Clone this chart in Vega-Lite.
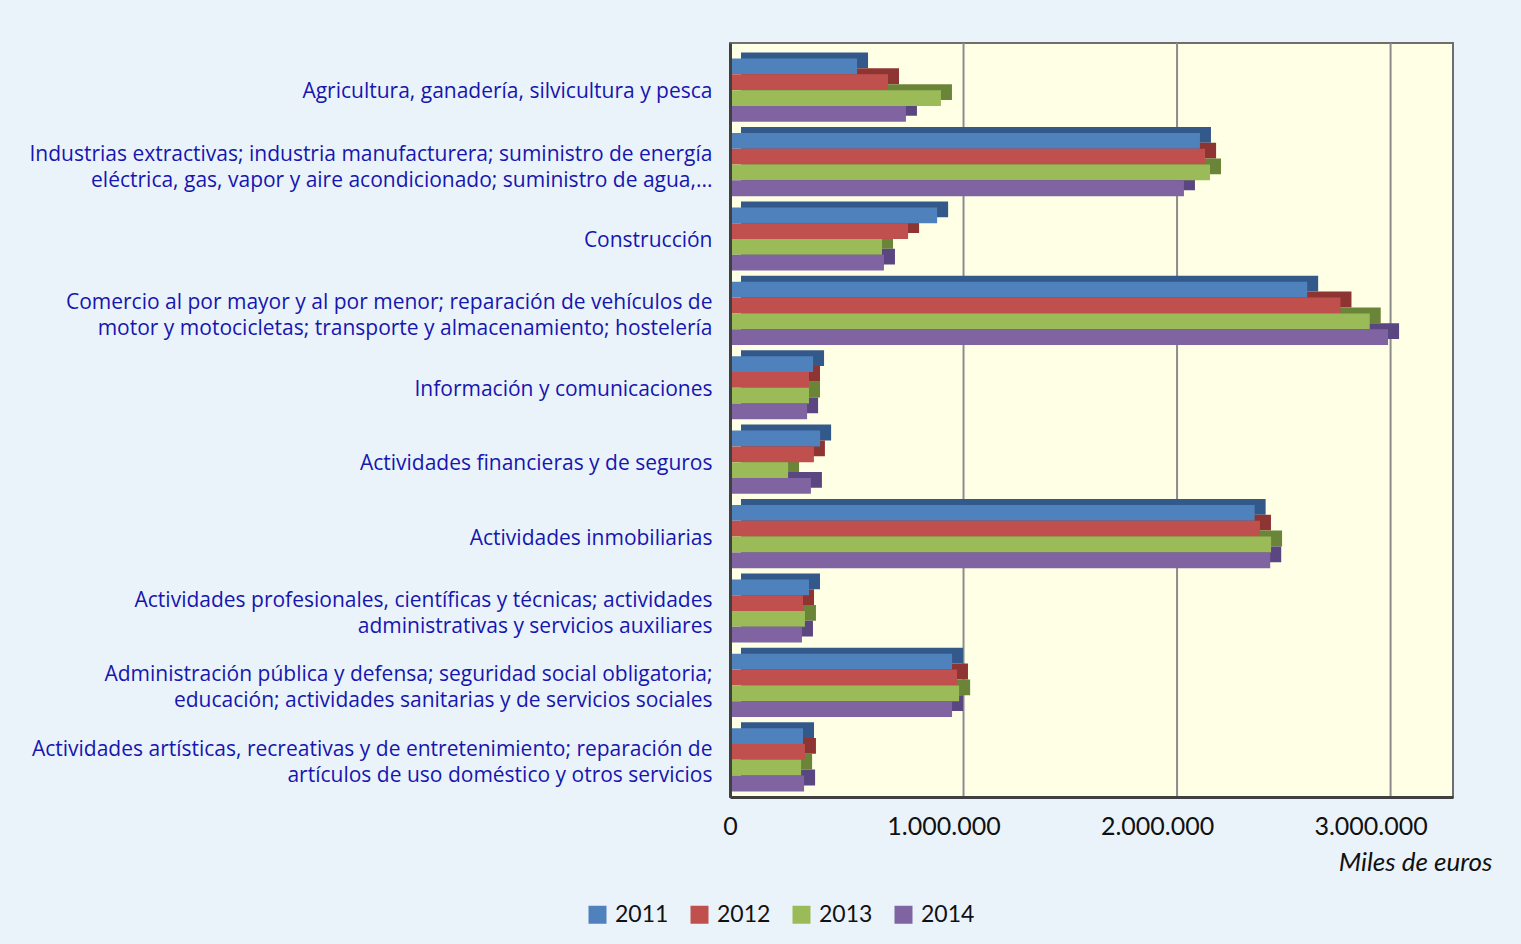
{
  "$schema": "https://vega.github.io/schema/vega-lite/v6.json",
  "width": 723,
  "height": 754,
  "autosize": {"type": "none"},
  "padding": {"left": 730, "top": 43, "right": 68, "bottom": 147},
  "background": "#EBF3FA",
  "config": {
    "view": {"fill": "#FFFFE6", "stroke": "#6E6E6E", "strokeWidth": 2},
    "font": "Liberation Sans",
    "locale": {"number": {"decimal": ",", "thousands": ".", "grouping": [3], "currency": ["", " €"]}}
  },
  "datasets": {
    "bars": [
      {"sector": "Agricultura, ganadería, silvicultura y pesca", "year": "2011", "value": 595000},
      {"sector": "Agricultura, ganadería, silvicultura y pesca", "year": "2012", "value": 740000},
      {"sector": "Agricultura, ganadería, silvicultura y pesca", "year": "2013", "value": 988000},
      {"sector": "Agricultura, ganadería, silvicultura y pesca", "year": "2014", "value": 824000},
      {"sector": "Industrias extractivas; industria manufacturera; suministro de energía\neléctrica, gas, vapor y aire acondicionado; suministro de agua,...", "year": "2011", "value": 2201000},
      {"sector": "Industrias extractivas; industria manufacturera; suministro de energía\neléctrica, gas, vapor y aire acondicionado; suministro de agua,...", "year": "2012", "value": 2225000},
      {"sector": "Industrias extractivas; industria manufacturera; suministro de energía\neléctrica, gas, vapor y aire acondicionado; suministro de agua,...", "year": "2013", "value": 2248000},
      {"sector": "Industrias extractivas; industria manufacturera; suministro de energía\neléctrica, gas, vapor y aire acondicionado; suministro de agua,...", "year": "2014", "value": 2126000},
      {"sector": "Construcción", "year": "2011", "value": 970000},
      {"sector": "Construcción", "year": "2012", "value": 834000},
      {"sector": "Construcción", "year": "2013", "value": 712000},
      {"sector": "Construcción", "year": "2014", "value": 721000},
      {"sector": "Comercio al por mayor y al por menor; reparación de vehículos de\nmotor y motocicletas; transporte y almacenamiento; hostelería", "year": "2011", "value": 2703000},
      {"sector": "Comercio al por mayor y al por menor; reparación de vehículos de\nmotor y motocicletas; transporte y almacenamiento; hostelería", "year": "2012", "value": 2859000},
      {"sector": "Comercio al por mayor y al por menor; reparación de vehículos de\nmotor y motocicletas; transporte y almacenamiento; hostelería", "year": "2013", "value": 2996000},
      {"sector": "Comercio al por mayor y al por menor; reparación de vehículos de\nmotor y motocicletas; transporte y almacenamiento; hostelería", "year": "2014", "value": 3082000},
      {"sector": "Información y comunicaciones", "year": "2011", "value": 389000},
      {"sector": "Información y comunicaciones", "year": "2012", "value": 370000},
      {"sector": "Información y comunicaciones", "year": "2013", "value": 370000},
      {"sector": "Información y comunicaciones", "year": "2014", "value": 361000},
      {"sector": "Actividades financieras y de seguros", "year": "2011", "value": 422000},
      {"sector": "Actividades financieras y de seguros", "year": "2012", "value": 393000},
      {"sector": "Actividades financieras y de seguros", "year": "2013", "value": 272000},
      {"sector": "Actividades financieras y de seguros", "year": "2014", "value": 379000},
      {"sector": "Actividades inmobiliarias", "year": "2011", "value": 2457000},
      {"sector": "Actividades inmobiliarias", "year": "2012", "value": 2482000},
      {"sector": "Actividades inmobiliarias", "year": "2013", "value": 2534000},
      {"sector": "Actividades inmobiliarias", "year": "2014", "value": 2530000},
      {"sector": "Actividades profesionales, científicas y técnicas; actividades\nadministrativas y servicios auxiliares", "year": "2011", "value": 370000},
      {"sector": "Actividades profesionales, científicas y técnicas; actividades\nadministrativas y servicios auxiliares", "year": "2012", "value": 342000},
      {"sector": "Actividades profesionales, científicas y técnicas; actividades\nadministrativas y servicios auxiliares", "year": "2013", "value": 351000},
      {"sector": "Actividades profesionales, científicas y técnicas; actividades\nadministrativas y servicios auxiliares", "year": "2014", "value": 337000},
      {"sector": "Administración pública y defensa; seguridad social obligatoria;\neducación; actividades sanitarias y de servicios sociales", "year": "2011", "value": 1040000},
      {"sector": "Administración pública y defensa; seguridad social obligatoria;\neducación; actividades sanitarias y de servicios sociales", "year": "2012", "value": 1063000},
      {"sector": "Administración pública y defensa; seguridad social obligatoria;\neducación; actividades sanitarias y de servicios sociales", "year": "2013", "value": 1073000},
      {"sector": "Administración pública y defensa; seguridad social obligatoria;\neducación; actividades sanitarias y de servicios sociales", "year": "2014", "value": 1040000},
      {"sector": "Actividades artísticas, recreativas y de entretenimiento; reparación de\nartículos de uso doméstico y otros servicios", "year": "2011", "value": 342000},
      {"sector": "Actividades artísticas, recreativas y de entretenimiento; reparación de\nartículos de uso doméstico y otros servicios", "year": "2012", "value": 351000},
      {"sector": "Actividades artísticas, recreativas y de entretenimiento; reparación de\nartículos de uso doméstico y otros servicios", "year": "2013", "value": 333000},
      {"sector": "Actividades artísticas, recreativas y de entretenimiento; reparación de\nartículos de uso doméstico y otros servicios", "year": "2014", "value": 347000}
    ],
    "grid": [
      {"value": 1000000},
      {"value": 2000000},
      {"value": 3000000}
    ]
  },
  "layer": [
    {
      "data": {"name": "grid"},
      "mark": {"type": "rule", "color": "#8C8C8C", "strokeWidth": 2, "xOffset": 20},
      "encoding": {
        "x": {"field": "value", "type": "quantitative", "scale": {"domain": [0, 3386000], "nice": false, "zero": true}}
      }
    },
    {
      "data": {"name": "bars"},
      "mark": {"type": "bar", "xOffset": 11},
      "encoding": {
        "y": {"field": "sector", "type": "nominal", "sort": null, "scale": {"paddingInner": 0, "paddingOuter": 0.067, "align": 1}},
        "yOffset": {"field": "year", "type": "nominal", "scale": {"paddingInner": 0, "paddingOuter": 0.355, "range": [-6, 68.4]}},
        "x": {"field": "value", "type": "quantitative", "scale": {"domain": [0, 3386000], "nice": false, "zero": true}},
        "color": {"field": "year", "type": "nominal", "scale": {"domain": ["2011", "2012", "2013", "2014"], "range": ["#33598A", "#8E3432", "#6B8538", "#5A4680"]}, "legend": null}
      }
    },
    {
      "data": {"name": "bars"},
      "mark": {"type": "bar"},
      "encoding": {
        "y": {
          "field": "sector", "type": "nominal", "sort": null,
          "scale": {"paddingInner": 0, "paddingOuter": 0.067, "align": 1},
          "axis": {
            "title": null, "ticks": false, "domain": true, "domainColor": "#404040", "domainWidth": 3,
            "labelFont": "Open Sans", "labelFontSize": 21, "labelColor": "#1616B0",
            "labelPadding": 18, "labelLimit": 800, "labelLineHeight": 26,
            "labelOffset": {"expr": "indexof(datum.label, '\\n') >= 0 ? -10 : 2"},
            "labelExpr": "split(datum.label, '\\n')", "zindex": 1
          }
        },
        "yOffset": {"field": "year", "type": "nominal", "scale": {"paddingInner": 0, "paddingOuter": 0.355, "range": [0, 74.4]}},
        "x": {
          "field": "value", "type": "quantitative",
          "scale": {"domain": [0, 3386000], "nice": false, "zero": true},
          "axis": {
            "values": [0, 1000000, 2000000, 3000000], "format": ",d", "grid": false, "ticks": false,
            "domain": true, "domainColor": "#404040", "domainWidth": 3,
            "labelFont": "Lato", "labelFontSize": 25, "labelColor": "#111111", "labelPadding": 17,
            "labelFlush": false, "labelOverlap": false,
            "title": "Miles de euros", "titleFont": "Lato", "titleFontSize": 26, "titleFontStyle": "italic",
            "titleFontWeight": "normal", "titleColor": "#111111", "titleX": 762, "titleY": 65,
            "titleAlign": "right", "titleBaseline": "middle", "zindex": 1
          }
        },
        "color": {
          "field": "year", "type": "nominal",
          "scale": {"domain": ["2011", "2012", "2013", "2014"], "range": ["#4F81BD", "#C0504D", "#9BBB59", "#8064A2"]},
          "legend": {
            "orient": "none", "legendX": -144, "legendY": 860, "direction": "horizontal", "title": null,
            "symbolType": "square", "symbolSize": 324, "symbolStrokeWidth": 0,
            "labelFont": "Lato", "labelFontSize": 23, "labelColor": "#111111", "labelOffset": 6,
            "columnPadding": 19, "padding": 0
          }
        }
      }
    }
  ],
  "resolve": {"scale": {"color": "independent", "yOffset": "independent"}}
}
